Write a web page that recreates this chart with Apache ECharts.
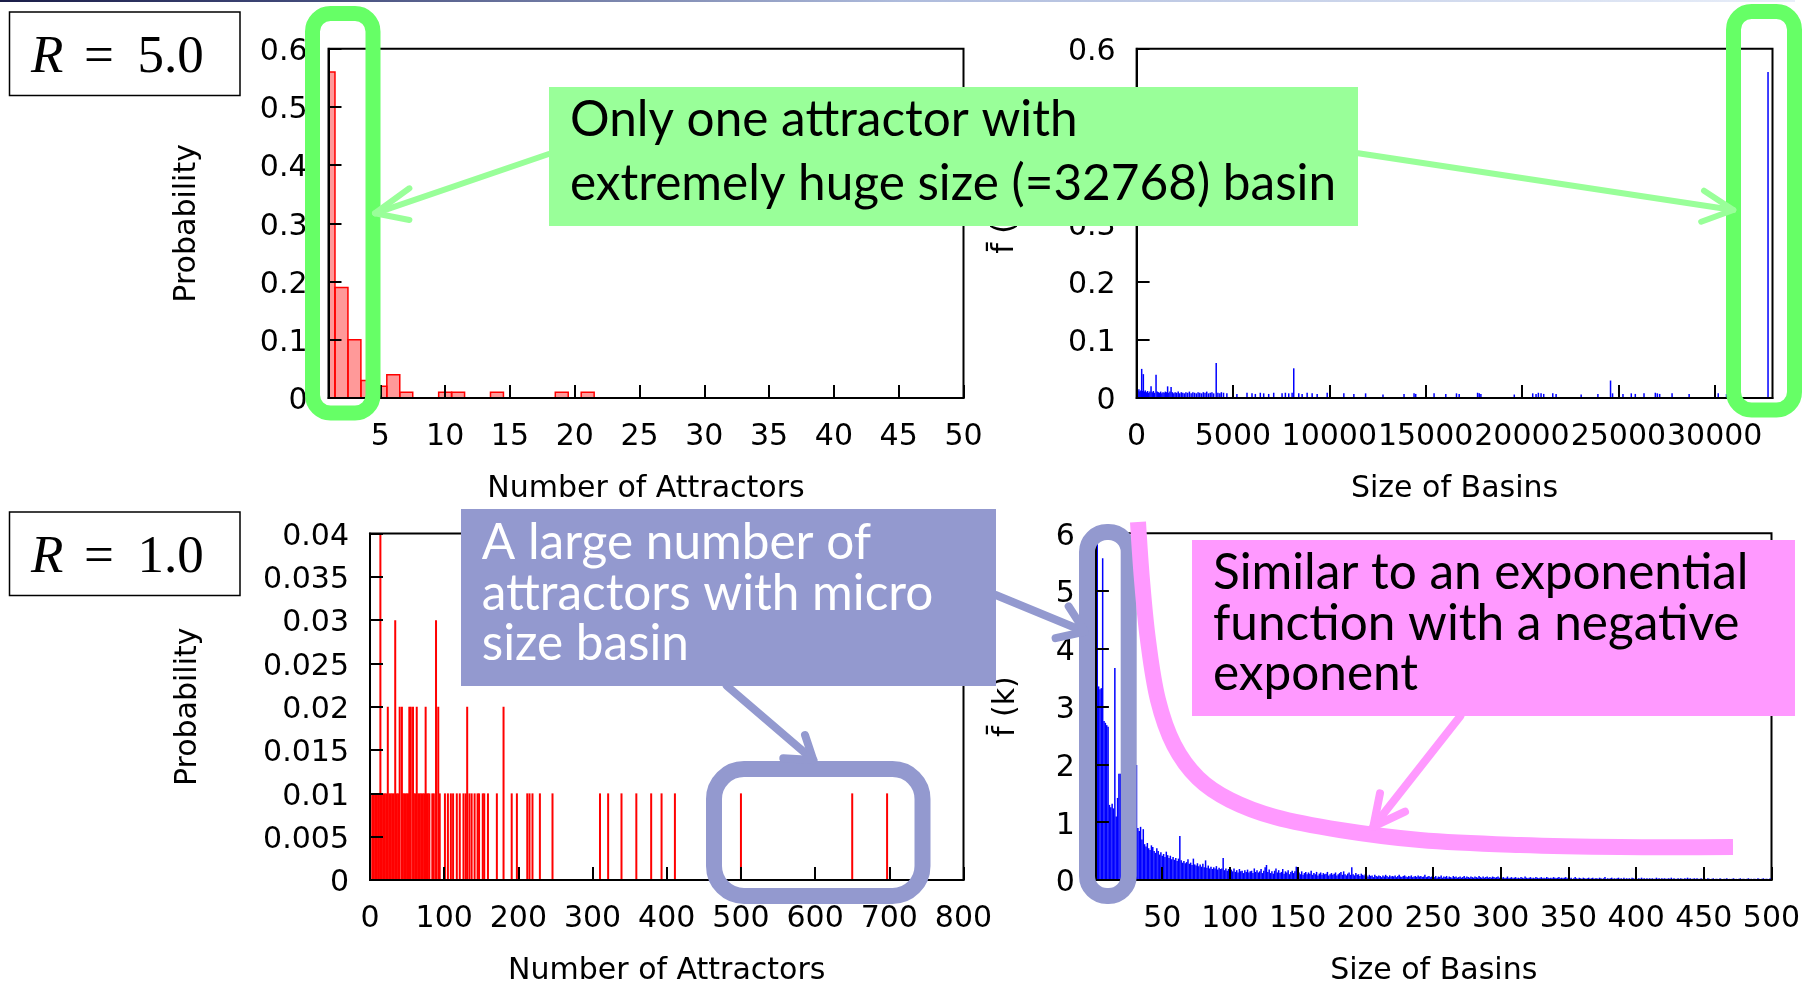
<!DOCTYPE html>
<html>
<head>
<meta charset="utf-8">
<script src="https://cdn.jsdelivr.net/npm/echarts@6/dist/echarts.min.js"></script>
<style>
html, body { margin: 0; padding: 0; background: #ffffff; }
#chart { width: 1820px; height: 987px; }
</style>
</head>
<body>
<div id="chart"></div>
<script>
// ---- R = 5.0 : distribution of the number of attractors (histogram, unit bins)
const attrCountR5 = [1, 2, 3, 4, 5, 6, 7, 10, 11, 14, 19, 21];
const attrProbR5  = [0.56, 0.19, 0.10, 0.03, 0.02, 0.04, 0.01, 0.01, 0.01, 0.01, 0.01, 0.01];
const attrTicksR5 = [5, 10, 15, 20, 25, 30, 35, 40, 45, 50];

// ---- R = 5.0 : mean frequency of basin sizes (impulses)
const basinSizeR5 = [
  20, 70, 120, 170, 220, 264, 310, 350, 400, 450, 510, 570, 630, 690, 750, 810, 870, 930, 1009, 1070,
  1130, 1190, 1250, 1310, 1370, 1430, 1490, 1550, 1610, 1670, 1730, 1790, 1860, 1930, 2000, 2080, 2160, 2240, 2320, 2400,
  2480, 2560, 2650, 2740, 2830, 2920, 3010, 3100, 3190, 3280, 3370, 3460, 3550, 3640, 3730, 3820, 3910, 4000, 4131, 4220,
  4320, 4400,
  4511, 4685, 5205, 5729, 5989, 6162, 6420, 6595, 6855, 7115, 7549, 7721, 7895, 8070, 8155, 8415, 8590, 8850, 9110, 9370,
  9891, 10755, 11275, 11884, 12786, 13878, 14398, 14485, 15437, 16046, 16600, 16740, 17695, 17780, 17867, 19600, 20556, 20729, 20850, 20989,
  21127, 21597, 21770, 23070, 23939, 24595, 24700, 25240, 25672, 25880, 26332, 26920, 27024, 27145, 27788, 28673, 30183, 30613, 32768
];
const basinFreqR5 = [
  0.014, 0.012, 0.015, 0.011, 0.013, 0.050, 0.012, 0.041, 0.011, 0.013, 0.010, 0.012, 0.009, 0.011, 0.020, 0.010, 0.012, 0.009, 0.040, 0.011,
  0.010, 0.009, 0.011, 0.008, 0.010, 0.009, 0.011, 0.010, 0.020, 0.009, 0.011, 0.019, 0.010, 0.008, 0.010, 0.009, 0.011, 0.008, 0.010, 0.009,
  0.008, 0.010, 0.009, 0.011, 0.008, 0.010, 0.009, 0.008, 0.010, 0.009, 0.008, 0.010, 0.009, 0.011, 0.008, 0.009, 0.010, 0.008, 0.060, 0.009,
  0.008, 0.010,
  0.009, 0.008, 0.007, 0.009, 0.008, 0.007, 0.009, 0.008, 0.007, 0.009, 0.008, 0.009, 0.008, 0.009, 0.051, 0.008, 0.007, 0.009, 0.008, 0.007,
  0.009, 0.008, 0.007, 0.008, 0.006, 0.007, 0.008, 0.007, 0.008, 0.007, 0.008, 0.007, 0.009, 0.008, 0.007, 0.006, 0.008, 0.007, 0.009, 0.008,
  0.007, 0.008, 0.007, 0.006, 0.007, 0.030, 0.008, 0.007, 0.008, 0.007, 0.008, 0.009, 0.008, 0.007, 0.008, 0.007, 0.008, 0.007, 0.560
];
const basinTicksR5 = [0, 5000, 10000, 15000, 20000, 25000, 30000];

// ---- R = 1.0 : distribution of the number of attractors (impulses)
const attrCountR1 = [
  3, 5, 7, 9, 11, 12, 14, 16, 18, 20, 22, 24, 26, 28, 30, 32, 34, 36, 38, 40,
  43, 44, 46, 48, 50, 52, 53, 55, 58, 59, 61, 63, 65, 67, 69, 71, 73, 75, 76, 78,
  80, 84, 86, 89, 92, 94, 101, 105, 109, 112, 117, 121, 126, 129, 131, 134, 137, 141, 145, 147,
  152, 154, 159, 171, 180, 191, 198, 212, 215, 219, 229, 246, 310, 321, 339, 359, 379, 393, 411, 500,
  650, 697
];
const attrProbR1 = [
  0.01, 0.01, 0.01, 0.01, 0.01, 0.01, 0.04, 0.01, 0.01, 0.01, 0.01, 0.02, 0.01, 0.01, 0.01, 0.01, 0.03, 0.01, 0.01, 0.02,
  0.02, 0.01, 0.01, 0.01, 0.01, 0.01, 0.02, 0.02, 0.02, 0.01, 0.01, 0.02, 0.01, 0.01, 0.01, 0.01, 0.01, 0.02, 0.01, 0.01,
  0.01, 0.01, 0.01, 0.03, 0.02, 0.01, 0.01, 0.01, 0.01, 0.01, 0.01, 0.01, 0.01, 0.01, 0.02, 0.01, 0.01, 0.01, 0.01, 0.01,
  0.01, 0.01, 0.01, 0.01, 0.02, 0.01, 0.01, 0.01, 0.01, 0.01, 0.01, 0.01, 0.01, 0.01, 0.01, 0.01, 0.01, 0.01, 0.01, 0.01,
  0.01, 0.01
];

// ---- R = 1.0 : mean frequency of basin sizes, sizes 1, 2, 3, ... 500
const basinSizeR1First = 1;
const basinFreqR1 = [
  4.70, 5.86, 3.35, 3.30, 3.32, 5.57, 2.75, 2.72, 2.68, 2.65,
  1.30, 1.26, 1.32, 1.24, 3.67, 1.10, 1.42, 1.84, 1.84, 1.70,
  1.52, 1.60, 1.35, 1.42, 1.22, 1.30, 1.12, 1.25, 1.02, 1.15,
  1.99, 0.90, 0.85, 0.92, 0.70, 0.88, 0.62, 0.58, 0.64, 0.55,
  0.52, 0.60, 0.57, 0.50, 0.47, 0.55, 0.50, 0.44, 0.48, 0.42,
  0.45, 0.40, 0.49, 0.43, 0.38, 0.42, 0.36, 0.40, 0.35, 0.38,
  0.33, 0.37, 0.76, 0.34, 0.30, 0.33, 0.29, 0.31, 0.36, 0.28,
  0.30, 0.26, 0.37, 0.27, 0.25, 0.29, 0.24, 0.27, 0.23, 0.28,
  0.22, 0.34, 0.21, 0.25, 0.20, 0.23, 0.19, 0.22, 0.20, 0.24,
  0.18, 0.21, 0.19, 0.20, 0.38, 0.17, 0.20, 0.16, 0.19, 0.17,
  0.18, 0.15, 0.20, 0.14, 0.17, 0.13, 0.19, 0.15, 0.16, 0.12,
  0.17, 0.14, 0.18, 0.13, 0.15, 0.16, 0.12, 0.20, 0.14, 0.17,
  0.13, 0.15, 0.19, 0.12, 0.16, 0.22, 0.26, 0.14, 0.18, 0.12,
  0.15, 0.11, 0.16, 0.20, 0.13, 0.17, 0.12, 0.14, 0.19, 0.11,
  0.15, 0.13, 0.17, 0.10, 0.14, 0.16, 0.12, 0.15, 0.23, 0.11,
  0.13, 0.10, 0.15, 0.09, 0.12, 0.14, 0.10, 0.13, 0.11, 0.16,
  0.09, 0.12, 0.10, 0.14, 0.08, 0.11, 0.13, 0.09, 0.12, 0.10,
  0.11, 0.14, 0.08, 0.10, 0.12, 0.09, 0.11, 0.13, 0.08, 0.10,
  0.12, 0.14, 0.09, 0.15, 0.10, 0.08, 0.11, 0.13, 0.09, 0.22,
  0.10, 0.08, 0.12, 0.09, 0.10, 0.07, 0.11, 0.09, 0.08, 0.10,
  0.08, 0.06, 0.09, 0.07, 0.08, 0.05, 0.09, 0.07, 0.06, 0.08,
  0.07, 0.05, 0.08, 0.06, 0.09, 0.07, 0.05, 0.08, 0.06, 0.07,
  0.06, 0.08, 0.05, 0.07, 0.09, 0.06, 0.05, 0.07, 0.08, 0.06,
  0.05, 0.07, 0.06, 0.08, 0.05, 0.06, 0.07, 0.05, 0.08, 0.06,
  0.07, 0.05, 0.06, 0.09, 0.05, 0.06, 0.07, 0.05, 0.06, 0.08,
  0.05, 0.07, 0.04, 0.06, 0.05, 0.08, 0.04, 0.06, 0.05, 0.07,
  0.04, 0.06, 0.05, 0.04, 0.07, 0.05, 0.06, 0.04, 0.05, 0.06,
  0.04, 0.05, 0.07, 0.04, 0.06, 0.05, 0.04, 0.06, 0.05, 0.04,
  0.06, 0.05, 0.04, 0.07, 0.05, 0.04, 0.06, 0.04, 0.05, 0.06,
  0.04, 0.05, 0.04, 0.06, 0.05, 0.04, 0.05, 0.06, 0.04, 0.05,
  0.04, 0.05, 0.03, 0.04, 0.06, 0.03, 0.04, 0.05, 0.03, 0.04,
  0.05, 0.03, 0.04, 0.03, 0.05, 0.04, 0.03, 0.06, 0.04, 0.03,
  0.04, 0.05, 0.03, 0.04, 0.03, 0.05, 0.04, 0.03, 0.04, 0.05,
  0.03, 0.04, 0.03, 0.05, 0.04, 0.03, 0.04, 0.03, 0.05, 0.04,
  0.03, 0.04, 0.05, 0.03, 0.04, 0.03, 0.04, 0.05, 0.03, 0.04,
  0.03, 0.04, 0.02, 0.03, 0.05, 0.03, 0.02, 0.04, 0.03, 0.02,
  0.04, 0.03, 0.02, 0.03, 0.04, 0.02, 0.03, 0.04, 0.02, 0.03,
  0.03, 0.02, 0.04, 0.03, 0.02, 0.03, 0.05, 0.02, 0.03, 0.02,
  0.03, 0.04, 0.02, 0.03, 0.02, 0.03, 0.04, 0.02, 0.03, 0.02,
  0.04, 0.02, 0.03, 0.02, 0.03, 0.02, 0.04, 0.03, 0.02, 0.03,
  0.02, 0.03, 0.02, 0.04, 0.02, 0.03, 0.02, 0.03, 0.02, 0.03,
  0.02, 0.03, 0.02, 0.02, 0.04, 0.02, 0.03, 0.02, 0.03, 0.02,
  0.03, 0.02, 0.02, 0.03, 0.02, 0.04, 0.02, 0.03, 0.02, 0.02,
  0.03, 0.02, 0.03, 0.02, 0.02, 0.03, 0.02, 0.04, 0.02, 0.03,
  0.02, 0.02, 0.03, 0.02, 0.03, 0.02, 0.02, 0.03, 0.02, 0.04,
  0.02, 0.00, 0.03, 0.02, 0.00, 0.02, 0.03, 0.00, 0.02, 0.02,
  0.00, 0.03, 0.02, 0.00, 0.02, 0.02, 0.03, 0.00, 0.02, 0.00,
  0.02, 0.03, 0.00, 0.02, 0.00, 0.02, 0.03, 0.00, 0.02, 0.02,
  0.00, 0.02, 0.03, 0.00, 0.02, 0.00, 0.02, 0.02, 0.00, 0.03,
  0.02, 0.00, 0.02, 0.03, 0.00, 0.02, 0.02, 0.00, 0.03, 0.02
];
const basinTicksR1 = [50, 100, 150, 200, 250, 300, 350, 400, 450, 500];

const AXIS_FONT = 'DejaVu Sans';
const NOTE_FONT = 'Lato';
const GREEN = '#66ff66', GREEN_LIGHT = '#99ff99', PURPLE = '#9399cf', PINK = '#ff99ff';

const chart = echarts.init(document.getElementById('chart'), null, { renderer: 'canvas' });

const textStyle = { color: '#000', fontSize: 30, fontFamily: AXIS_FONT };
const plainNumber = v => String(v);

function tickCfg(values) {
  const t = { show: true, inside: true, length: 13, lineStyle: { color: '#000', width: 2 } };
  if (values) t.customValues = values;
  return t;
}
function xLabelCfg(values) {
  const l = Object.assign({ margin: 24, formatter: plainNumber, hideOverlap: false }, textStyle);
  if (values) l.customValues = values;
  return l;
}
function xAxisCfg(gridIndex, min, max, name, values, interval) {
  const a = {
    type: 'value', gridIndex, min, max, z: 5,
    axisLine: { show: true, onZero: false, lineStyle: { color: '#000', width: 2 } },
    axisTick: tickCfg(values),
    axisLabel: xLabelCfg(values),
    splitLine: { show: false },
    name, nameLocation: 'middle', nameGap: 76, nameTextStyle: textStyle
  };
  if (interval) a.interval = interval;
  return a;
}
function yAxisCfg(gridIndex, min, max, interval, name, nameGap) {
  return {
    type: 'value', gridIndex, min, max, interval, z: 5,
    axisLine: { show: true, onZero: false, lineStyle: { color: '#000', width: 2 } },
    axisTick: tickCfg(null),
    axisLabel: Object.assign({
      margin: 21,
      formatter: v => '{t|' + v + '}',
      rich: { t: Object.assign({ padding: [7, 0, 0, 0] }, textStyle) }
    }, textStyle),
    splitLine: { show: false },
    name, nameLocation: 'middle', nameGap, nameTextStyle: textStyle
  };
}

const gridBase = { show: true, borderColor: '#000', borderWidth: 2, backgroundColor: 'transparent', containLabel: false };

// Unit-width histogram bins, clipped to the plotting area
function histBin(params, api) {
  const x = api.value(0), v = api.value(1);
  const p0 = api.coord([x - 0.5, v]);
  const p1 = api.coord([x + 0.5, 0]);
  const cs = params.coordSys;
  const shape = echarts.graphic.clipRectByRect(
    { x: p0[0], y: p0[1], width: p1[0] - p0[0], height: p1[1] - p0[1] },
    { x: cs.x, y: cs.y, width: cs.width, height: cs.height }
  );
  return shape && {
    type: 'rect', shape,
    style: { fill: 'rgba(255,0,0,0.4)', stroke: '#ff0000', lineWidth: 1.5 }
  };
}

function arrow(points, color, width) {
  return {
    type: 'polyline', z: 100, silent: true,
    shape: { points },
    style: { stroke: color, lineWidth: width, fill: null, lineCap: 'round', lineJoin: 'round' }
  };
}
function note(x, y, text, color) {
  return {
    type: 'text', x, y, z: 101, silent: true,
    style: { text, fontFamily: NOTE_FONT, fontSize: 49.5, fill: color, align: 'left', verticalAlign: 'middle' }
  };
}
function serif(x, y, text, italic) {
  return {
    type: 'text', x, y, z: 101, silent: true,
    style: { text, fontFamily: 'Liberation Serif', fontSize: 53, fontStyle: italic ? 'italic' : 'normal',
             fill: '#000', align: 'left', verticalAlign: 'middle' }
  };
}

const option = {
  animation: false,
  backgroundColor: '#ffffff',
  grid: [
    Object.assign({ left: 328.5, top: 48.7, width: 635, height: 349.3 }, gridBase),
    Object.assign({ left: 1136.6, top: 48.7, width: 635.9, height: 349.3 }, gridBase),
    Object.assign({ left: 370, top: 533.5, width: 593.5, height: 348.2 }, gridBase),
    Object.assign({ left: 1095.9, top: 533.3, width: 675.6, height: 348.4 }, gridBase)
  ],
  xAxis: [
    xAxisCfg(0, 1, 50, 'Number of Attractors', attrTicksR5),
    xAxisCfg(1, 0, 33000, 'Size of Basins', basinTicksR5),
    xAxisCfg(2, 0, 800, 'Number of Attractors', null, 100),
    xAxisCfg(3, 1, 500, 'Size of Basins', basinTicksR1)
  ],
  yAxis: [
    yAxisCfg(0, 0, 0.6, 0.1, 'Probability', 126),
    yAxisCfg(1, 0, 0.6, 0.1, 'f\u0304 (k)', 116),
    yAxisCfg(2, 0, 0.04, 0.005, 'Probability', 167),
    yAxisCfg(3, 0, 6, 1, 'f\u0304 (k)', 75)
  ],
  series: [
    {
      type: 'custom', xAxisIndex: 0, yAxisIndex: 0, silent: true, clip: true,
      renderItem: histBin,
      data: attrCountR5.map((c, i) => [c, attrProbR5[i]])
    },
    {
      type: 'bar', xAxisIndex: 1, yAxisIndex: 1, silent: true, barWidth: 1.5, clip: true,
      itemStyle: { color: '#0000ff' },
      data: basinSizeR5.map((s, i) => [s, basinFreqR5[i]])
    },
    {
      type: 'bar', xAxisIndex: 2, yAxisIndex: 2, silent: true, barWidth: 2, clip: true,
      itemStyle: { color: '#ff0000' },
      data: attrCountR1.map((c, i) => [c, attrProbR1[i]])
    },
    {
      type: 'bar', xAxisIndex: 3, yAxisIndex: 3, silent: true, barWidth: 1.5, clip: true,
      itemStyle: { color: '#0000ff' },
      data: basinFreqR1.map((v, i) => [basinSizeR1First + i, v])
    }
  ],
  graphic: { elements: [
    // slide header rule
    { type: 'rect', z: 100, silent: true, shape: { x: 0, y: 0, width: 1795, height: 2 },
      style: { fill: new echarts.graphic.LinearGradient(0, 0, 1, 0, [
        { offset: 0, color: '#1a1d48' }, { offset: 0.15, color: '#3c4474' },
        { offset: 0.5, color: '#aebbdc' }, { offset: 1, color: '#e8eef9' }]) } },

    // parameter boxes
    { type: 'rect', z: 100, silent: true, shape: { x: 9.5, y: 12, width: 230.5, height: 83.5 },
      style: { fill: '#fff', stroke: '#000', lineWidth: 1.5 } },
    serif(31, 58.5, 'R', true), serif(84, 58.5, '=', false), serif(137.5, 58.5, '5.0', false),
    { type: 'rect', z: 100, silent: true, shape: { x: 9.5, y: 512, width: 230.5, height: 83.5 },
      style: { fill: '#fff', stroke: '#000', lineWidth: 1.5 } },
    serif(31, 558.5, 'R', true), serif(84, 558.5, '=', false), serif(137.5, 558.5, '1.0', false),

    // R = 5.0 highlights
    { type: 'rect', z: 100, silent: true, shape: { x: 312.5, y: 13.5, width: 60.5, height: 399.5, r: 18 },
      style: { fill: null, stroke: GREEN, lineWidth: 15 } },
    { type: 'rect', z: 100, silent: true, shape: { x: 1733.5, y: 11.5, width: 61, height: 398.5, r: 18 },
      style: { fill: null, stroke: GREEN, lineWidth: 15 } },
    arrow([[548.75, 154], [375, 213.3]], GREEN_LIGHT, 6),
    arrow([[409.4, 188.3], [375, 213.3], [409.4, 220]], GREEN_LIGHT, 6),
    arrow([[1358.3, 153.3], [1733.3, 210]], GREEN_LIGHT, 6),
    arrow([[1704, 190.7], [1733.3, 210], [1701.2, 221.7]], GREEN_LIGHT, 6),
    { type: 'rect', z: 100, silent: true, shape: { x: 549, y: 87, width: 809, height: 139 },
      style: { fill: GREEN_LIGHT } },
    note(570, 120, 'Only one attractor with', '#000'),
    note(570, 184, 'extremely huge size (=32768) basin', '#000'),

    // R = 1.0 highlights
    { type: 'rect', z: 100, silent: true, shape: { x: 714, y: 769, width: 208.5, height: 127, r: 30 },
      style: { fill: null, stroke: PURPLE, lineWidth: 16 } },
    { type: 'rect', z: 100, silent: true, shape: { x: 1087, y: 532, width: 41.7, height: 364, r: 20 },
      style: { fill: null, stroke: PURPLE, lineWidth: 16 } },
    arrow([[726.7, 685.7], [813.3, 760]], PURPLE, 8),
    arrow([[805, 735], [813.3, 760], [783.3, 758.3]], PURPLE, 8),
    arrow([[995.7, 595], [1084.9, 631.7]], PURPLE, 8),
    arrow([[1055.6, 638.2], [1084.9, 631.7], [1068.7, 606.4]], PURPLE, 8),
    { type: 'rect', z: 100, silent: true, shape: { x: 461, y: 509, width: 535, height: 177 },
      style: { fill: PURPLE } },
    note(481.7, 543, 'A large number of', '#ffffff'),
    note(481.7, 594, 'attractors with micro', '#ffffff'),
    note(481.7, 644, 'size basin', '#ffffff'),

    // decay sketch
    { type: 'polyline', z: 100, silent: true,
      shape: { smooth: 0.35, points: [[1138, 522], [1142, 580], [1148, 640], [1158, 700], [1174, 745], [1198, 778],
        [1230, 800], [1275, 817], [1340, 830], [1420, 840], [1520, 845], [1620, 847], [1733, 847]] },
      style: { fill: null, stroke: PINK, lineWidth: 16, lineCap: 'butt', lineJoin: 'round' } },
    arrow([[1460.4, 716], [1373.3, 826.7]], PINK, 8),
    arrow([[1380, 793.3], [1373.3, 826.7], [1405, 811.7]], PINK, 8),
    { type: 'rect', z: 100, silent: true, shape: { x: 1192, y: 540, width: 603, height: 176 },
      style: { fill: PINK } },
    note(1213, 573, 'Similar to an exponential', '#000'),
    note(1213, 624, 'function with a negative', '#000'),
    note(1213, 674, 'exponent', '#000')
  ] }
};

chart.setOption(option);
</script>
</body>
</html>
